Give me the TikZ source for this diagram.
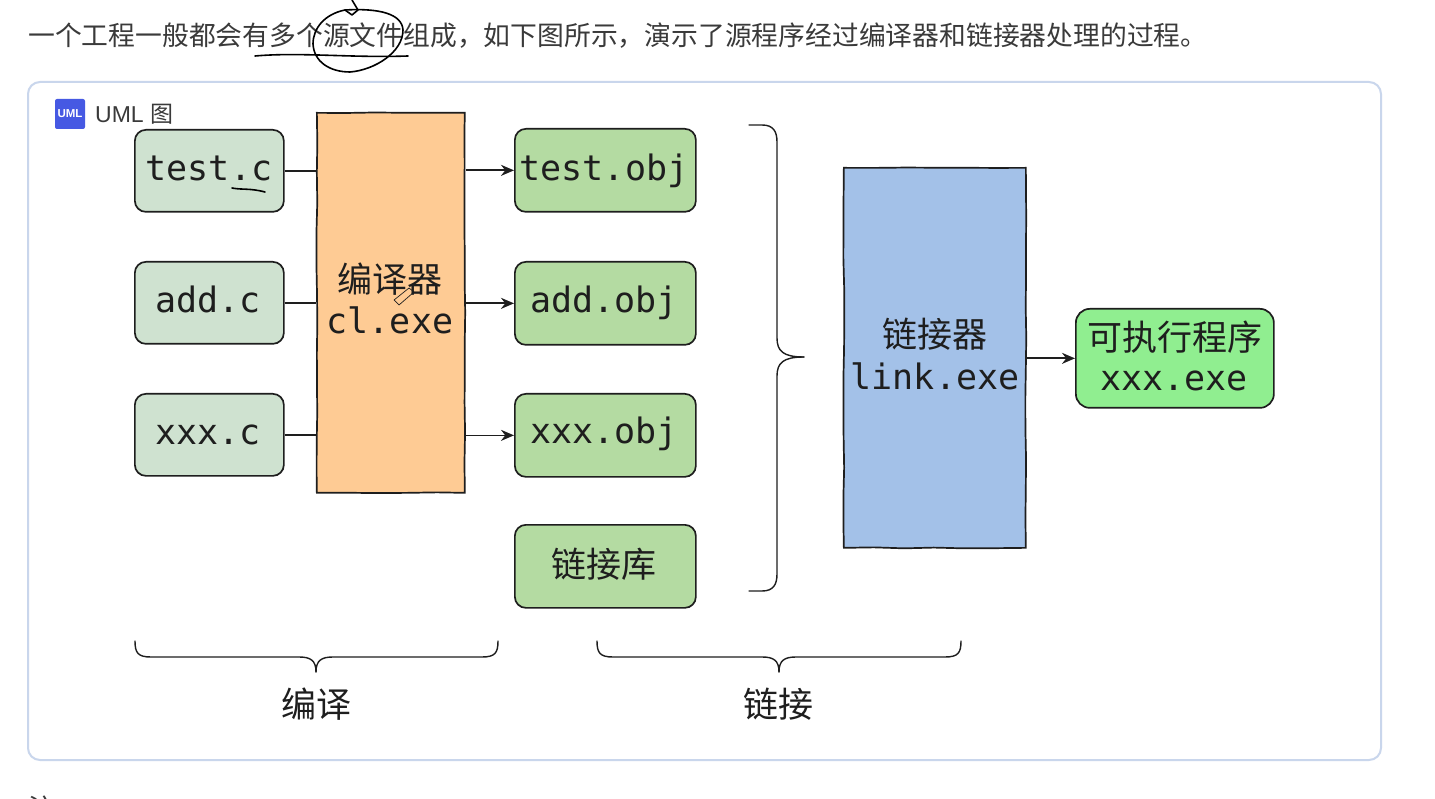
\documentclass[tikz,border=0pt]{standalone}
\usepackage{fontspec}
\setmainfont{Liberation Sans}
\newfontfamily\cjk{Noto Sans CJK SC}
\newfontfamily\mono{DejaVu Sans Mono}
\usetikzlibrary{decorations.pathmorphing,arrows.meta}
\definecolor{ink}{HTML}{1E1E1E}
\definecolor{pagetext}{HTML}{3A3A3A}
\definecolor{framec}{HTML}{C9D6EC}
\definecolor{srcfill}{HTML}{CFE2D0}
\definecolor{objfill}{HTML}{B4DBA2}
\definecolor{compfill}{HTML}{FECB94}
\definecolor{linkfill}{HTML}{A3C1E8}
\definecolor{exefill}{HTML}{90EE90}
\definecolor{iconblue}{HTML}{4659E3}
\tikzset{
  x=1pt,y=-1pt,
  rough/.style={decoration={random steps,segment length=30pt,amplitude=0.5pt},decorate},
  anybox/.style={draw=ink,line width=1.7pt,align=center,inner sep=0pt,text=ink,font=\mono\fontsize{35}{42}\selectfont,anchor=north west},
  srcbox/.style={anybox,fill=srcfill,rounded corners=11pt,minimum width=149pt,minimum height=82pt},
  objbox/.style={anybox,fill=objfill,rounded corners=11pt,minimum width=181pt,minimum height=83pt},
  tallbox/.style={anybox,rough,minimum height=380pt},
  link/.style={draw=ink,line width=1.7pt},
  arrowlink/.style={link,-{Stealth[length=13pt,width=11pt]}},
  bracket/.style={draw=ink,line width=1.4pt,line cap=round},
  capt/.style={font=\cjk\fontsize{35}{42}\selectfont,text=ink,inner sep=0pt},
  monolabel/.style={inner sep=0pt,text=ink,font=\mono\fontsize{35}{42}\selectfont},
  scribble/.style={draw=black,line width=1.6pt,line cap=round,line join=round}
}
\begin{document}
\begin{tikzpicture}
\pgfmathsetseed{7}
\useasboundingbox (0,0) rectangle (1435,799);
\fill[white] (0,0) rectangle (1435,799);
% page text
\node[anchor=west,inner sep=0pt,text=pagetext,font=\cjk\fontsize{26.8}{30}\selectfont] (intro) at (28,36) {一个工程一般都会有多个源文件组成，如下图所示，演示了源程序经过编译器和链接器处理的过程。};
\node[anchor=west,inner sep=0pt,text=pagetext,font=\cjk\fontsize{26.8}{30}\selectfont] (note) at (28,808) {注};
% frame
\draw[framec,line width=2pt,rounded corners=12pt,fill=white] (28,82) rectangle (1381,760);
\node[fill=iconblue,rounded corners=2pt,minimum width=30pt,minimum height=30pt,inner sep=0pt,text=white,font=\bfseries\fontsize{11.5}{12}\selectfont] (icon) at (70,114) {UML};
\node[anchor=west,inner sep=0pt,text=pagetext,font=\fontsize{23}{26}\selectfont] (umltitle) at (95,114) {UML {\cjk 图}};
% sources
\node[srcbox] (s1) at (134,129) {};
\node[srcbox] (s2) at (134,261) {};
\node[srcbox] (s3) at (134,393) {};
\node[monolabel] (s1t) at (209,168) {test.c};
\node[monolabel] (s2t) at (208,299) {add.c};
\node[monolabel] (s3t) at (208,435) {xxx.c};
% compiler
\node[tallbox,fill=compfill,minimum width=148pt] (comp) at (316,112) {};
\node[capt] (complabel) at (390,279) {编译器};
\node[monolabel] (compexe) at (390,320) {cl.exe};
% objects
\node[objbox] (o1) at (514,128) {};
\node[objbox] (o2) at (514,261) {};
\node[objbox] (o3) at (514,393) {};
\node[objbox] (o4) at (514,524) {};
\node[monolabel] (o1t) at (604,171) {test.obj};
\node[monolabel] (o2t) at (604,303) {add.obj};
\node[monolabel] (o3t) at (604,434) {xxx.obj};
\node[capt] (o4t) at (604,564) {链接库};
% linker
\node[tallbox,fill=linkfill,minimum width=182pt] (lnk) at (843,167) {};
\node[capt] (lnklabel) at (935,334) {链接器};
\node[monolabel] (lnkexe) at (935,376) {link.exe};
% result
\node[anybox,fill=exefill,rounded corners=14pt,minimum width=198pt,minimum height=99pt] (exe) at (1075,308) {};
\node[capt] (exelabel) at (1175,337) {可执行程序};
\node[monolabel] (exename) at (1174,381) {xxx.exe};
% connectors
\foreach \n in {1,2,3}{
  \draw[link] (s\n.east) -- (comp.west |- s\n.east);
  \draw[arrowlink] (comp.east |- o\n.west) -- (o\n.west);
}
\draw[arrowlink] (lnk.east |- exe.west) -- (exe.west);
% right brace
\coordinate (bt) at (749,125);
\coordinate (bb) at (749,591);
\coordinate (btip) at (804,357);
\draw[bracket] (bt) -- (762,125) .. controls (773,125) and (777,131) .. (777,142)
  -- (777,338) .. controls (777,351) and (783,357) .. (btip);
\draw[bracket] (btip) .. controls (783,357) and (777,363) .. (777,376)
  -- (777,574) .. controls (777,585) and (773,591) .. (762,591) -- (bb);
% bottom braces
\foreach \xa/\xm/\xb/\nm in {135/316/498/a,597/779/961/b}{
  \coordinate (\nm l) at (\xa,641);
  \coordinate (\nm r) at (\xb,641);
  \coordinate (\nm t) at (\xm,672);
  \draw[bracket] (\nm l) .. controls (\xa,653) and (\xa+3,657) .. (\xa+16,657)
    -- (\xm-17,657) .. controls (\xm-6,657) and (\xm,660) .. (\nm t);
  \draw[bracket] (\nm r) .. controls (\xb,653) and (\xb-3,657) .. (\xb-16,657)
    -- (\xm+17,657) .. controls (\xm+6,657) and (\xm,660) .. (\nm t);
}
\node[capt] (cap1) at (316,704) {编译};
\node[capt] (cap2) at (778,704) {链接};
% handwriting
\draw[scribble] (255,56) .. controls (300,52) and (350,58) .. (408,56);
\draw[scribble] (345,10) .. controls (325,14) and (313,28) .. (313,44)
  .. controls (314,62) and (330,72) .. (350,72)
  .. controls (375,70) and (403,52) .. (403,30)
  .. controls (402,14) and (380,8) .. (345,10);
\draw[scribble] (352,0) -- (358,10) -- (352,15) -- (345,10);
\draw[scribble] (232,188) .. controls (242,190) and (250,188) .. (265,192);
\draw[draw=ink,line width=0.7pt,line join=round] (394,300) -- (409,288) -- (414,292) -- (399,305) -- cycle;
\end{tikzpicture}
\end{document}
